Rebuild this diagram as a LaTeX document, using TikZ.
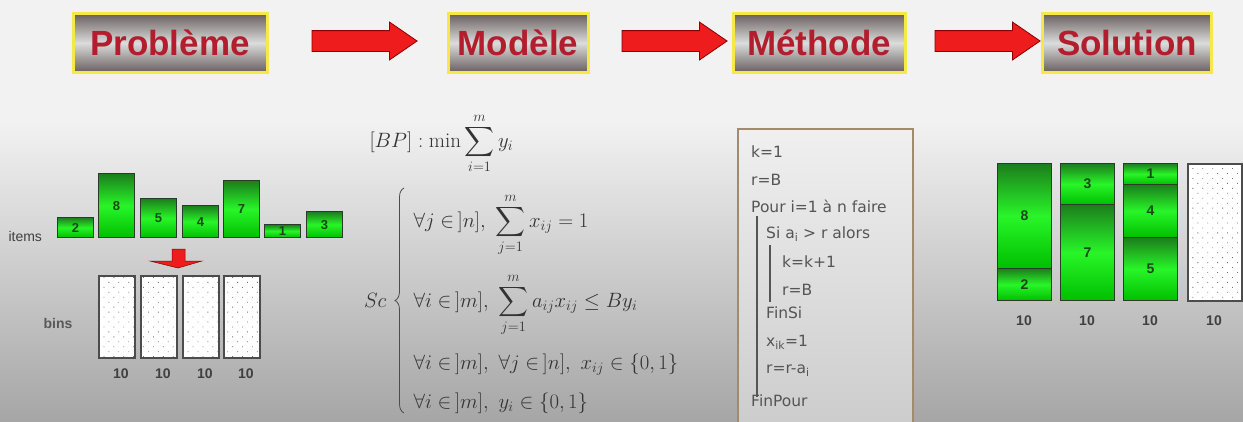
\documentclass[tikz,border=0pt]{standalone}
\usepackage{amsmath}
\usepackage{fontspec}
\setsansfont{Liberation Sans}
\newfontfamily\algfont{DejaVu Sans}
\usetikzlibrary{positioning,shapes.arrows,patterns.meta,decorations.pathreplacing,calc}
\definecolor{hdrred}{RGB}{178,30,45}
\definecolor{hdrdark}{RGB}{104,94,94}
\definecolor{hdrlight}{RGB}{220,220,220}
\definecolor{hdrframe}{RGB}{246,232,70}
\definecolor{arrred}{RGB}{238,28,28}
\definecolor{itdark}{RGB}{28,125,28}
\definecolor{itlight}{RGB}{40,245,40}
\definecolor{itedge}{RGB}{40,60,40}
\definecolor{itnum}{RGB}{25,70,25}
\definecolor{algframe}{RGB}{160,138,112}
\definecolor{algtext}{RGB}{85,85,85}

\tikzset{
  hdrbox/.style={rectangle, draw=hdrframe, line width=3pt, top color=hdrdark, bottom color=hdrdark, middle color=hdrlight,
    text=hdrred, font=\sffamily\bfseries\fontsize{35}{40}\selectfont, minimum height=59pt, inner sep=0pt},
  bigarrow/.style={single arrow, fill=arrred, draw=red!55!black, line width=0.8pt, minimum height=105pt,
    single arrow head extend=8.5pt, single arrow tip angle=69, inner sep=10pt},
  itembox/.style={rectangle, draw=itedge, line width=0.9pt, top color=itdark, bottom color=green!75!black, middle color=itlight,
    text=itnum, font=\sffamily\bfseries\fontsize{13}{13}\selectfont, inner sep=0pt},
  emptybin/.style={rectangle, draw=black!70, line width=1.6pt, preaction={fill=white},
    pattern={Dots[distance=7pt, radius=0.6pt, angle=45]}, pattern color=black!55, inner sep=0pt},
  binlabel/.style={text=black!75, font=\sffamily\bfseries\fontsize{14}{14}\selectfont},
  mathrow/.style={anchor=base west, text=black!80, font=\fontsize{21}{25}\selectfont},
  algline/.style={anchor=base west, text=algtext, font=\algfont\fontsize{15.5}{18}\selectfont, inner sep=0pt}
}

\begin{document}
\begin{tikzpicture}[x=1pt, y=-1pt]
  \useasboundingbox (0,0) rectangle (1243,421);
  % background
  \fill[black!5] (0,0) rectangle (1243,120);
  \shade[top color=black!5, bottom color=black!35] (0,120) rectangle (1243,421);

  % header chain
  \node[hdrbox, minimum width=194pt] (prob) at (170,43) {Problème};
  \node[hdrbox, minimum width=140pt] (mod) at (518,43) {Modèle};
  \node[hdrbox, minimum width=172pt] (meth) at (819,43) {Méthode};
  \node[hdrbox, minimum width=169pt] (sol) at (1127,43) {Solution};
  \node[bigarrow] (arr1) at (357,41) {};
  \node[bigarrow] (arr2) at (667,41) {};
  \node[bigarrow] (arr3) at (980,41) {};

  % problem: items and bins
  \node[anchor=west, text=black!75, font=\sffamily\fontsize{14}{14}\selectfont] (itemslbl) at (5,236) {items};
  \foreach \n/\x/\h in {2/57/20, 8/98/64, 5/140/39, 4/182/32, 7/223/57, 1/264/13, 3/306/26}{
    \node[itembox, minimum width=36pt, minimum height=\h pt, anchor=south west] (it\n) at (\x,238) {\n};
  }
  \fill[arrred, draw=red!55!black, line width=0.5pt] (172,249) -- (185,249) -- (185,261) -- (202,261) -- (178,268) -- (150,261) -- (172,261) -- cycle;
  \node[text=black!65, font=\sffamily\bfseries\fontsize{14}{14}\selectfont] (binslbl) at (58,323) {bins};
  \foreach \b/\x in {1/98, 2/140, 3/182, 4/223}{
    \node[emptybin, minimum width=36pt, minimum height=82pt, anchor=north west] (bin\b) at (\x,275) {};
    \node[binlabel, below=7pt of bin\b, xshift=4pt] (cap\b) {10};
  }

  % model
  \node[mathrow] (obj) at (366,147) {$[BP]:\min\displaystyle\sum_{i=1}^{m} y_i$};
  \node[anchor=base east, text=black!80, font=\fontsize{21}{25}\selectfont] (sc) at (390,307) {$Sc$};
  \draw[decorate, decoration={brace, amplitude=9pt}, line width=0.8pt, black!70] (404,413) -- (404,188);
  \node[mathrow] (c1) at (410,227) {$\forall j\in\,]n],\ \displaystyle\sum_{j=1}^{m} x_{ij}=1$};
  \node[mathrow] (c2) at (410,307) {$\forall i\in\,]m],\ \displaystyle\sum_{j=1}^{m} a_{ij}x_{ij}\leq By_i$};
  \node[mathrow] (c3) at (410,369) {$\forall i\in\,]m],\ \forall j\in\,]n],\ x_{ij}\in\{0,1\}$};
  \node[mathrow] (c4) at (410,408) {$\forall i\in\,]m],\ y_i\in\{0,1\}$};

  % method
  \node[draw=algframe, line width=1.5pt, top color=black!6, bottom color=black!20, minimum width=175pt, minimum height=300pt, anchor=north west] (algo) at (737,128) {};
  \foreach \y/\x/\txt [count=\k] in {157/751/k=1, 185/751/r=B, 212/751/Pour i=1 à n faire, 238/766/Si a\textsubscript{i} > r alors,
      267/782/k=k+1, 295/782/r=B, 318/766/FinSi, 346/766/x\textsubscript{ik}=1, 373/766/r=r-a\textsubscript{i}, 406/751/FinPour}{
    \node[algline] (line\k) at (\x,\y) {\txt};
  }
  \draw[algtext, line width=1.2pt] (757,216) -- (757,397);
  \draw[algtext, line width=1.2pt] (770,245) -- (770,302);

  % solution
  \foreach \n/\x/\t/\h in {8/997/163/105, 2/997/268/32, 3/1060/163/41, 7/1060/204/96, 1/1123/163/21, 4/1123/184/53, 5/1123/237/63}{
    \node[itembox, minimum width=54pt, minimum height=\h pt, anchor=north west, font=\sffamily\bfseries\fontsize{14}{14}\selectfont] (pc\n) at (\x,\t) {\n};
  }
  \node[emptybin, minimum width=54pt, minimum height=137pt, anchor=north west] (sbin) at (1187,163) {};
  \foreach \x [count=\k] in {1024,1087,1150,1214}{
    \node[binlabel] (res\k) at (\x,321) {10};
  }
\end{tikzpicture}
\end{document}
